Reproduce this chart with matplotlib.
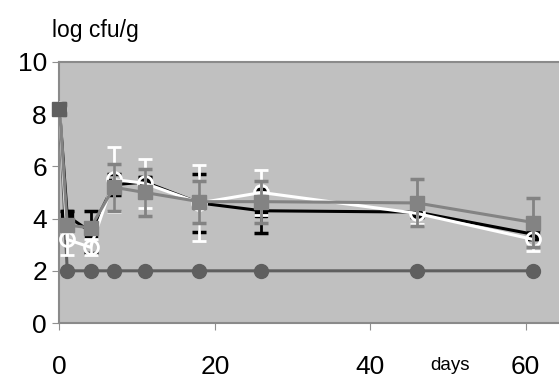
import matplotlib.pyplot as plt

plt.rcParams['font.family'] = ['Liberation Sans', 'DejaVu Sans']

# sampling days
days = [0, 1, 4, 7, 11, 18, 26, 46, 61]

# log cfu/g per series
control = [8.2, 2.0, 2.0, 2.0, 2.0, 2.0, 2.0, 2.0, 2.0]
black_vals = [8.2, 4.1, 3.5, 5.3, 5.4, 4.6, 4.3, 4.25, 3.4]
black_err = [0, 0.2, 0.8, 0.4, 0.2, 1.1, 0.85, 0.2, 0.2]
white_vals = [8.2, 3.2, 2.9, 5.5, 5.35, 4.6, 5.0, 4.2, 3.2]
white_err = [0, 0.6, 0.3, 1.25, 0.95, 1.45, 0.85, 0.4, 0.45]
gray_vals = [8.2, 3.75, 3.65, 5.2, 5.0, 4.65, 4.65, 4.6, 3.85]
gray_err = [0, 0.2, 0.2, 0.9, 0.9, 0.8, 0.8, 0.9, 0.95]

fig = plt.figure(figsize=(5.59, 3.85), dpi=100)
ax = fig.add_axes([0.1064, 0.161, 0.8936, 0.678])
ax.set_facecolor('#c0c0c0')

ax.plot(days, control, color='#5f5f5f', lw=2.2, marker='o', markersize=10, zorder=3)
ax.errorbar(days, black_vals, yerr=black_err, color='black', lw=2.2, marker='s',
            markersize=9, capsize=5, capthick=2.5, elinewidth=2, zorder=4)
ax.errorbar(days, white_vals, yerr=white_err, color='white', lw=2.2, marker='o',
            markersize=10, markerfacecolor='none', markeredgewidth=2,
            capsize=5, capthick=2.5, elinewidth=2, zorder=5)
ax.errorbar(days, gray_vals, yerr=gray_err, color='#838383', lw=2.2, marker='s',
            markersize=10.5, capsize=5, capthick=2.5, elinewidth=2, zorder=6)
# day 0 inoculum point
ax.plot(days[0], gray_vals[0], marker='s', color='#5f5f5f', markersize=10.5, zorder=7,
        clip_on=False)

ax.set_xlim(0, 64.3)
ax.set_ylim(0, 10)
ax.set_yticks([0, 2, 4, 6, 8, 10])
ax.set_xticks([0, 20, 40, 60])
ax.tick_params(axis='y', labelsize=19, length=5, color='#909090', pad=4)
ax.tick_params(axis='x', labelsize=19, length=5, color='#909090', pad=18)
for s in ax.spines.values():
    s.set_color('#8a8a8a')
    s.set_linewidth(1.5)
ax.spines['right'].set_visible(False)

fig.text(0.093, 0.905, 'log cfu/g', fontsize=16.5)
fig.text(0.77, 0.04, 'days', fontsize=13.5)

plt.savefig('out.png', dpi=100)
